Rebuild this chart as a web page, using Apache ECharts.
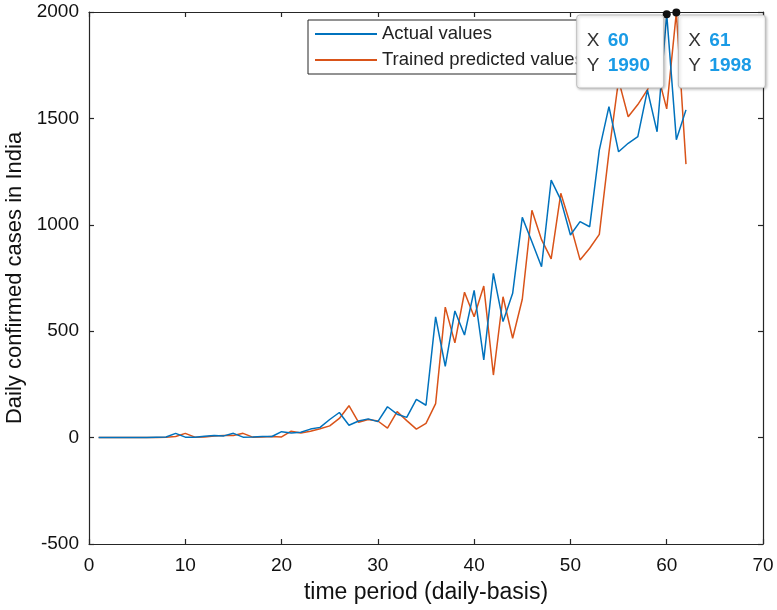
<!DOCTYPE html>
<html><head><meta charset="utf-8">
<script src="https://cdn.jsdelivr.net/npm/echarts@6/dist/echarts.min.js"></script>
<style>html,body{margin:0;padding:0;background:#fff}#c{width:777px;height:610px}</style>
</head><body><div id="c"></div>
<script>
const days = [1,2,3,4,5,6,7,8,9,10,11,12,13,14,15,16,17,18,19,20,21,22,23,24,25,26,27,28,29,30,31,32,33,34,35,36,37,38,39,40,41,42,43,44,45,46,47,48,49,50,51,52,53,54,55,56,57,58,59,60,61,62];
const actualValues = [0,0,0,0,0,0,2,3,20,2,2,6,10,8,20,2,3,5,5,28,22,25,40,48,85,118,58,78,88,75,145,110,95,180,152,567,335,595,482,692,365,772,545,678,1035,920,803,1210,1117,952,1015,991,1351,1555,1343,1383,1414,1633,1437,1990,1400,1540];
const predictedValues = [0,0,0,0,0,0,0,2,5,20,2,3,8,10,10,20,2,3,5,3,30,22,30,42,55,90,150,72,85,78,45,122,80,40,67,160,613,445,683,568,712,294,662,467,650,1068,930,840,1148,1000,835,890,955,1340,1680,1508,1565,1635,1720,1545,1998,1285];
const seriesNames = ['Actual values', 'Trained predicted values'];
const xTicks = {min: 0, max: 70, interval: 10};
const yTicks = {min: -500, max: 2000, interval: 500};
const dataTips = [{x: 60, y: 1990}, {x: 61, y: 1998}];

const blue = '#0072BD', orange = '#D95319', axisCol = '#262626';
const font = "'Liberation Sans', Arial, sans-serif";
const chart = echarts.init(document.getElementById('c'));

const axisCommon = {
  axisLine: {show: true, onZero: false, lineStyle: {color: axisCol, width: 1.2}},
  axisTick: {show: true, inside: true, length: 5, lineStyle: {color: axisCol, width: 1.2}},
  splitLine: {show: false}
};

const tipMarks = dataTips.map(t => ({coord: [t.x, t.y], symbol: 'circle', symbolSize: 8,
  itemStyle: {color: '#111'}, label: {show: false}}));

chart.setOption({
  animation: false,
  grid: {left: 89, right: 14, top: 12, bottom: 66, containLabel: false, outerBoundsMode: 'none'},
  legend: {
    orient: 'vertical', left: 308, top: 20,
    data: seriesNames,
    itemWidth: 62, itemHeight: 2, itemGap: 6,
    icon: 'rect',
    backgroundColor: '#fff', borderColor: axisCol, borderWidth: 1,
    padding: [4, 40, 4, 7],
    textStyle: {fontFamily: font, fontSize: 18.5, lineHeight: 20, color: '#222'}
  },
  xAxis: [
    Object.assign({type: 'value', position: 'bottom', min: xTicks.min, max: xTicks.max, interval: xTicks.interval,
      name: 'time period (daily-basis)', nameLocation: 'middle', nameGap: 37,
      nameTextStyle: {fontFamily: font, fontSize: 23, color: '#111'},
      axisLabel: {fontFamily: font, fontSize: 19, color: '#111', margin: 12}}, axisCommon),
    Object.assign({type: 'value', position: 'top', min: xTicks.min, max: xTicks.max, interval: xTicks.interval,
      axisLabel: {show: false}}, axisCommon)
  ],
  yAxis: [
    Object.assign({type: 'value', position: 'left', min: yTicks.min, max: yTicks.max, interval: yTicks.interval,
      name: 'Daily confirmed cases in India', nameLocation: 'middle', nameGap: 63,
      nameTextStyle: {fontFamily: font, fontSize: 22, color: '#111'},
      axisLabel: {fontFamily: font, fontSize: 19, color: '#111', margin: 10, formatter: v => String(v)}}, axisCommon),
    Object.assign({type: 'value', position: 'right', min: yTicks.min, max: yTicks.max, interval: yTicks.interval,
      axisLabel: {show: false}}, axisCommon)
  ],
  series: [
    {name: seriesNames[0], type: 'line', data: days.map((d, i) => [d, actualValues[i]]),
      showSymbol: false, symbol: 'none', lineStyle: {color: blue, width: 1.5}, itemStyle: {color: blue}, z: 3},
    {name: seriesNames[1], type: 'line', data: days.map((d, i) => [d, predictedValues[i]]),
      showSymbol: false, symbol: 'none', lineStyle: {color: orange, width: 1.5}, itemStyle: {color: orange}, z: 2,
      markPoint: {data: tipMarks, z: 20, animation: false}}
  ]
});

// data tips boxes anchored to the data points
const g = [];
dataTips.forEach((t, k) => {
  const p = chart.convertToPixel({xAxisIndex: 0, yAxisIndex: 0}, [t.x, t.y]);
  const bx = k === 0 ? p[0] - 90 : p[0] + 2;
  const by = 15;
  g.push({type: 'rect', z: 100, shape: {x: bx, y: by, width: 87, height: 73, r: 3},
    style: {fill: '#fff', stroke: '#bdbdbd', lineWidth: 1, shadowBlur: 3, shadowColor: 'rgba(0,0,0,0.25)', shadowOffsetX: 1, shadowOffsetY: 1}});
  g.push({type: 'text', z: 101, left: bx + 10, top: by + 16, style: {text: 'X', font: "19px 'Liberation Sans', Arial", fill: '#333'}});
  g.push({type: 'text', z: 101, left: bx + 31, top: by + 16, style: {text: String(t.x), font: "bold 19px 'Liberation Sans', Arial", fill: '#1a9be6'}});
  g.push({type: 'text', z: 101, left: bx + 10, top: by + 41, style: {text: 'Y', font: "19px 'Liberation Sans', Arial", fill: '#333'}});
  g.push({type: 'text', z: 101, left: bx + 31, top: by + 41, style: {text: String(t.y), font: "bold 19px 'Liberation Sans', Arial", fill: '#1a9be6'}});
});
chart.setOption({graphic: g});
</script></body></html>
